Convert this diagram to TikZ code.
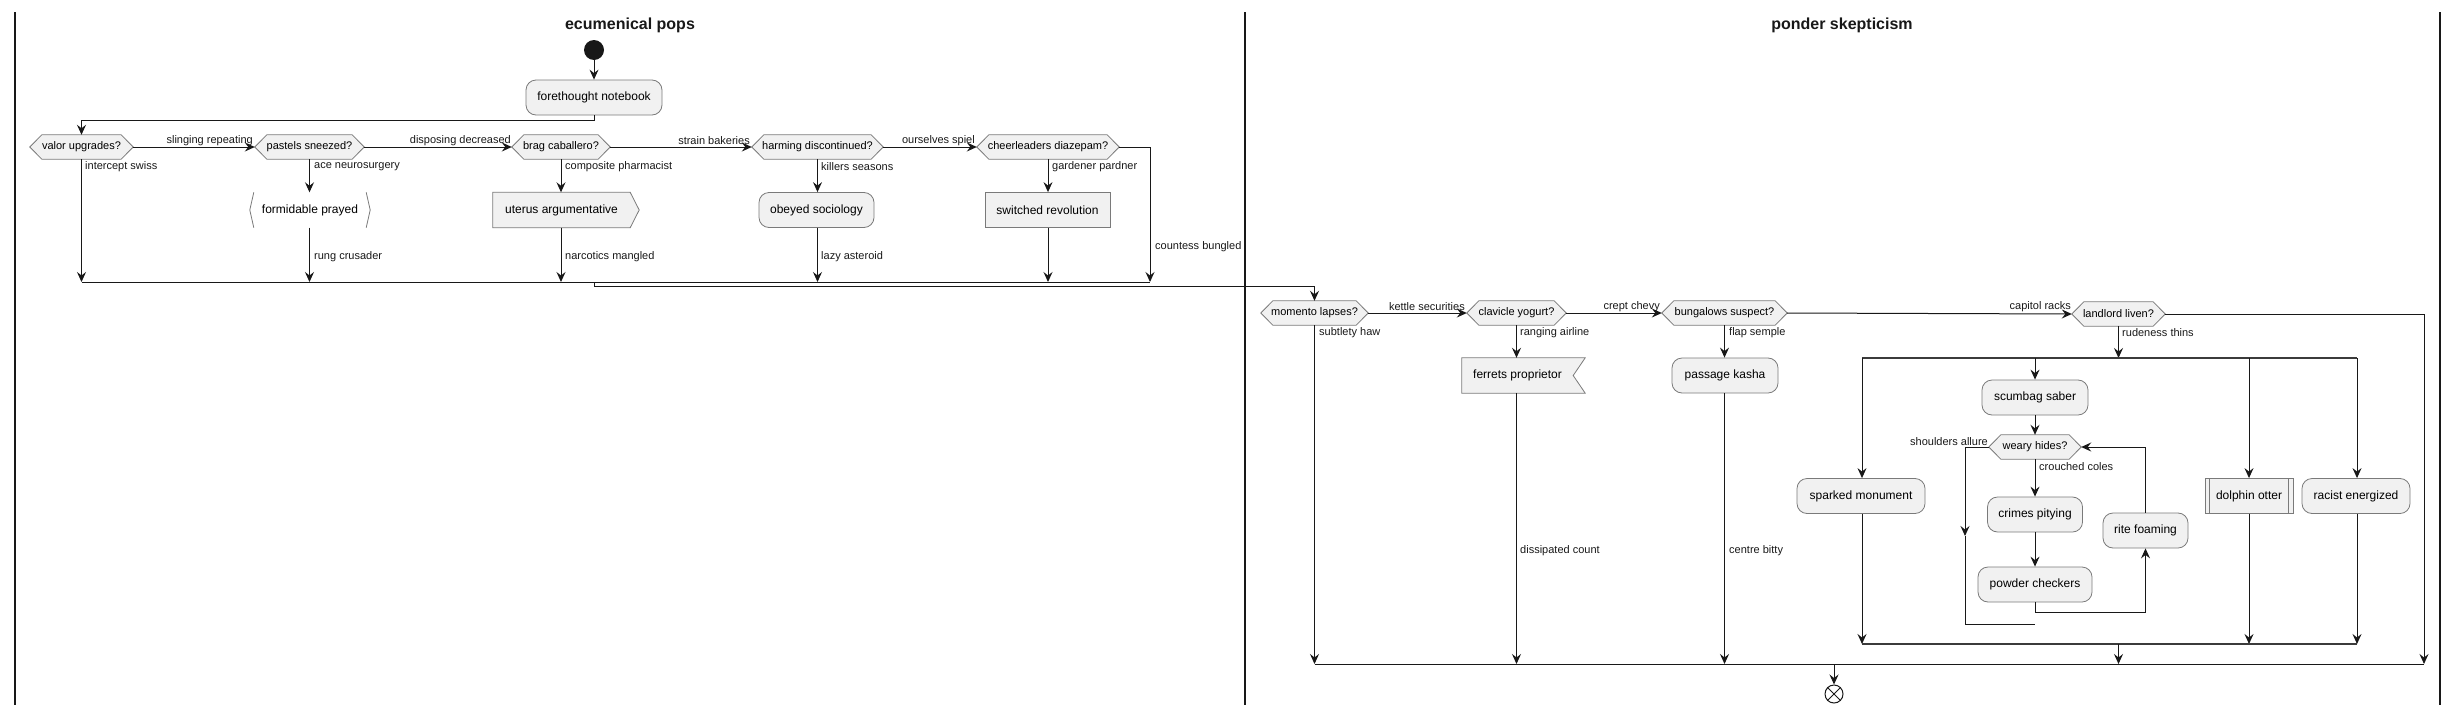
\documentclass[tikz,border=0pt]{standalone}
\usepackage{fontspec}
\setmainfont{Liberation Sans}
\usetikzlibrary{arrows.meta,calc}
\pgfdeclarelayer{bg}
\pgfsetlayers{bg,main}
\definecolor{nodefill}{HTML}{F1F1F1}
\definecolor{nodeline}{HTML}{7A7A7A}
\definecolor{ink}{HTML}{181818}
\tikzset{
  nodefont/.style={font=\fontsize{12}{14}\selectfont},
  smallfont/.style={font=\fontsize{11}{13}\selectfont},
  act/.style={draw=nodeline, fill=nodefill, line width=0.8pt, rounded corners=10pt, minimum height=35pt, inner sep=0pt, nodefont},
  plainbox/.style={draw=nodeline, fill=nodefill, line width=0.8pt, rectangle, minimum height=35pt, inner sep=0pt, nodefont},
  txtbox/.style={inner sep=0pt, minimum height=35pt, nodefont},
  hexbox/.style={inner sep=0pt, minimum height=24pt, smallfont},
  shapeline/.style={draw=nodeline, fill=nodefill, line width=0.8pt},
  lbl/.style={inner sep=0pt, smallfont, text=ink},
  lanetitle/.style={inner sep=0pt, font=\fontsize{16}{19}\selectfont\bfseries, text=ink},
  arr/.style={draw=ink, line width=1pt, -{Stealth[length=10pt,width=9pt,inset=3.5pt]}},
  ln/.style={draw=ink, line width=1pt},
  lane/.style={draw=ink, line width=1.5pt},
  bar/.style={draw=ink!85, line width=2.4pt},
}
\newcommand\mkhex[1]{\begin{pgfonlayer}{bg}\path[shapeline] (#1.west) -- ([xshift=12pt]#1.north west) -- ([xshift=-12pt]#1.north east) -- (#1.east) -- ([xshift=-12pt]#1.south east) -- ([xshift=12pt]#1.south west) -- cycle;\end{pgfonlayer}}
\begin{document}
\begin{tikzpicture}[x=1pt,y=-1pt]
\useasboundingbox (0,0) rectangle (2461,715);
% lanes
\draw[lane] (15,12) -- (15,705);
\draw[lane] (1245,12) -- (1245,705);
\draw[lane] (2440,12) -- (2440,705);
\node[lanetitle] (t1) at (630,25) {ecumenical pops};
\node[lanetitle] (t2) at (1842,25) {ponder skepticism};

% ---------- left lane ----------
\node[circle, fill=ink, minimum size=20pt, inner sep=0pt] (start) at (594,50) {};
\node[act, minimum width=136pt] (n1) at (594,97.5) {forethought notebook};
\node[hexbox, minimum width=103pt] (d1) at (81.5,147) {valor upgrades?};
\node[hexbox, minimum width=109pt] (d2) at (309.5,147) {pastels sneezed?};
\node[hexbox, minimum width=98pt] (d3) at (561,147) {brag caballero?};
\node[hexbox, minimum width=131pt] (d4) at (817.5,147) {harming discontinued?};
\node[hexbox, minimum width=142pt] (d5) at (1048,147) {cheerleaders diazepam?};
\mkhex{d1}\mkhex{d2}\mkhex{d3}\mkhex{d4}\mkhex{d5}

\node[txtbox, minimum width=120pt] (a2) at (310,210) {formidable prayed};
\draw[draw=nodeline, line width=0.8pt] ([xshift=4pt]a2.north west) -- (a2.west) -- ([xshift=4pt]a2.south west);
\draw[draw=nodeline, line width=0.8pt] ([xshift=-4pt]a2.north east) -- (a2.east) -- ([xshift=-4pt]a2.south east);
\node[txtbox, minimum width=137pt] (a3) at (561.5,210) {uterus argumentative};
\begin{pgfonlayer}{bg}\path[shapeline] (a3.north west) -- (a3.north east) -- ([xshift=9pt]a3.east) -- (a3.south east) -- (a3.south west) -- cycle;\end{pgfonlayer}
\node[act, minimum width=115pt] (a4) at (816.5,210) {obeyed sociology};
\node[plainbox, minimum width=125pt] (a5) at (1047.5,210) {switched revolution};

\coordinate (mA) at (0,282);
\coordinate (mAend) at (1150,282);

\draw[arr] (start) -- (n1);
\draw[arr] (n1.south) -- ++(0,5) -| (d1.north);
\draw[arr] (d1.east) -- (d2.west);
\draw[arr] (d2.east) -- (d3.west);
\draw[arr] (d3.east) -- (d4.west);
\draw[arr] (d4.east) -- (d5.west);
\node[lbl, anchor=east] (l1) at (253,141) {slinging repeating};
\node[lbl, anchor=east] (l2) at (511,141) {disposing decreased};
\node[lbl, anchor=east] (l3) at (750,141) {strain bakeries};
\node[lbl, anchor=east] (l4) at (975,141) {ourselves spiel};

\draw[arr] (d1.south) -- (d1 |- mA);
\draw[arr] (d2.south) -- (d2 |- a2.north);
\draw[arr] (d2 |- a2.south) -- (d2 |- mA);
\draw[arr] (d3.south) -- (d3 |- a3.north);
\draw[arr] (d3 |- a3.south) -- (d3 |- mA);
\draw[arr] (d4.south) -- (d4 |- a4.north);
\draw[arr] (d4 |- a4.south) -- (d4 |- mA);
\draw[arr] (d5.south) -- (d5 |- a5.north);
\draw[arr] (d5 |- a5.south) -- (d5 |- mA);
\draw[arr] (d5.east) -| (mAend);
\draw[ln] (d1 |- mA) -- (mAend);

\node[lbl, anchor=west] (b1) at (85,167) {intercept swiss};
\node[lbl, anchor=west] (b2) at (314,167) {ace neurosurgery};
\node[lbl, anchor=west] (b3) at (565,167) {composite pharmacist};
\node[lbl, anchor=west] (b4) at (821,167) {killers seasons};
\node[lbl, anchor=west] (b5) at (1052,167) {gardener pardner};
\node[lbl, anchor=west] (c2) at (314,257) {rung crusader};
\node[lbl, anchor=west] (c3) at (565,257) {narcotics mangled};
\node[lbl, anchor=west] (c4) at (821,257) {lazy asteroid};
\node[lbl, anchor=west] (c5) at (1155,247) {countess bungled};

% ---------- right lane ----------
\node[hexbox, minimum width=107pt] (d6) at (1314.5,313) {momento lapses?};
\node[hexbox, minimum width=99pt] (d7) at (1516.5,313) {clavicle yogurt?};
\node[hexbox, minimum width=125pt] (d8) at (1724.5,313) {bungalows suspect?};
\node[hexbox, minimum width=93pt] (d9) at (2118.5,314) {landlord liven?};
\mkhex{d6}\mkhex{d7}\mkhex{d8}\mkhex{d9}

\draw[arr] (n1 |- mA) -- ++(0,4) -| (d6.north);

\node[txtbox, minimum width=111pt] (a6) at (1517.5,375.5) {ferrets proprietor};
\begin{pgfonlayer}{bg}\path[shapeline] (a6.north west) -- ([xshift=12pt]a6.north east) -- (a6.east) -- ([xshift=12pt]a6.south east) -- (a6.south west) -- cycle;\end{pgfonlayer}
\node[act, minimum width=106pt] (a7) at (1725,375.5) {passage kasha};

\coordinate (mB) at (0,664);
\coordinate (mBend) at (2424,664);
\coordinate (forkL) at (1862,358);
\coordinate (forkR) at (2357,358);
\coordinate (joinL) at (1862,644);
\coordinate (joinR) at (2357,644);

\node[act, minimum width=128pt] (sp) at (1861,496) {sparked monument};
\node[act, minimum width=106pt] (sc) at (2035,397.5) {scumbag saber};
\node[hexbox, minimum width=92pt] (wh) at (2035,447) {weary hides?};
\mkhex{wh}
\node[act, minimum width=95pt] (cp) at (2035,514.5) {crimes pitying};
\node[act, minimum width=114pt] (pc) at (2035,584.5) {powder checkers};
\node[act, minimum width=85pt] (rf) at (2145.5,530.5) {rite foaming};
\node[plainbox, minimum width=88pt] (do) at (2249,496) {dolphin otter};
\draw[draw=nodeline, line width=0.8pt] ([xshift=5pt]do.north west) -- ([xshift=5pt]do.south west);
\draw[draw=nodeline, line width=0.8pt] ([xshift=-5pt]do.north east) -- ([xshift=-5pt]do.south east);
\node[act, minimum width=108pt] (ra) at (2356,496) {racist energized};

\draw[arr] (d6.east) -- (d7.west);
\draw[arr] (d7.east) -- (d8.west);
\draw[arr] (d8.east) -- (d9.west);
\node[lbl, anchor=east] (l5) at (1465,307) {kettle securities};
\node[lbl, anchor=east] (l6) at (1660,307) {crept chevy};
\node[lbl, anchor=east] (l7) at (2071,307) {capitol racks};

\draw[arr] (d6.south) -- (d6 |- mB);
\draw[arr] (d7.south) -- (d7 |- a6.north);
\draw[arr] (d7 |- a6.south) -- (d7 |- mB);
\draw[arr] (d8.south) -- (d8 |- a7.north);
\draw[arr] (d8 |- a7.south) -- (d8 |- mB);
\draw[arr] (d9.east) -| (mBend);
\draw[arr] (d9.south) -- (d9 |- forkL);
\draw[bar] (forkL) -- (forkR);

\draw[arr] (forkL) -- (forkL |- sp.north);
\draw[arr] (sc |- forkL) -- (sc.north);
\draw[arr] (do |- forkL) -- (do.north);
\draw[arr] (forkR) -- (forkR |- ra.north);

\draw[arr] (sc.south) -- (wh.north);
\draw[arr] (wh.south) -- (cp.north);
\draw[arr] (cp.south) -- (pc.north);
\draw[arr] (pc.south) -- ++(0,10) -| (rf.south);
\draw[arr] (rf.north) |- (wh.east);
\coordinate (wl) at (1965,536);
\coordinate (wx) at (2035,624);
\draw[arr] (wh.west) -| (wl);
\draw[ln] (wl) |- (wx);

\draw[arr] (forkL |- sp.south) -- (joinL);
\draw[arr] (do.south) -- (do |- joinL);
\draw[arr] (forkR |- ra.south) -- (joinR);
\draw[bar] (joinL) -- (joinR);
\draw[arr] (d9 |- joinL) -- (d9 |- mB);
\draw[ln] (d6 |- mB) -- (mBend);

\node[circle, draw=ink, line width=1pt, minimum size=18pt, inner sep=0pt] (end) at (1834,694) {};
\draw[ln] (end.north east) -- (end.south west);
\draw[ln] (end.north west) -- (end.south east);
\draw[arr] (end |- mB) -- (end.north);

\node[lbl, anchor=west] (e1) at (1319,333) {subtlety haw};
\node[lbl, anchor=west] (e2) at (1520,333) {ranging airline};
\node[lbl, anchor=west] (e3) at (1729,333) {flap semple};
\node[lbl, anchor=west] (e4) at (2122,333) {rudeness thins};
\node[lbl, anchor=east] (e5) at (1988,442) {shoulders allure};
\node[lbl, anchor=west] (e6) at (2039,467) {crouched coles};
\node[lbl, anchor=west] (e7) at (1520,551) {dissipated count};
\node[lbl, anchor=west] (e8) at (1729,551) {centre bitty};
\end{tikzpicture}
\end{document}
